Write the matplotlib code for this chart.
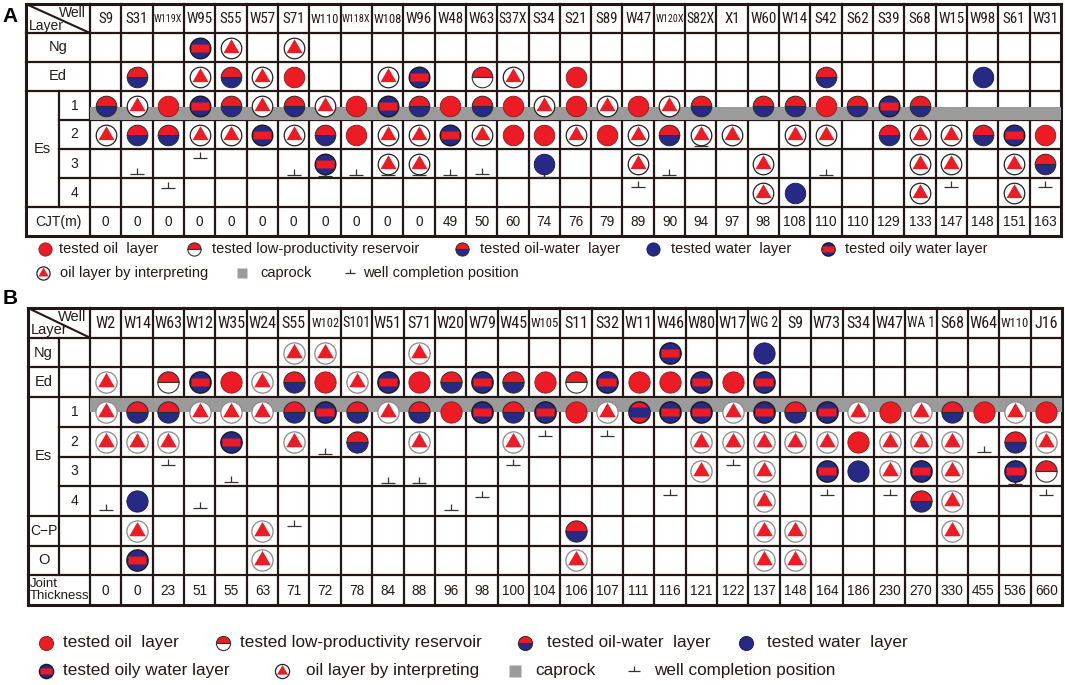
import matplotlib
matplotlib.use('Agg')
import matplotlib.pyplot as plt
from matplotlib.path import Path
from matplotlib import font_manager

# codes: O tested oil, L low-productivity, M oil-water, B water,
#        Y oily water, R oil with water band, T oil layer by interpreting, . none

# ---------------- panel A ----------------
wells_a = ['S9', 'S31', 'W119X', 'W95', 'S55', 'W57', 'S71', 'W110', 'W118X', 'W108', 'W96',
           'W48', 'W63', 'S37X', 'S34', 'S21', 'S89', 'W47', 'W120X', 'S82X', 'X1', 'W60',
           'W14', 'S42', 'S62', 'S39', 'S68', 'W15', 'W98', 'S61', 'W31']
cjt_a = [0, 0, 0, 0, 0, 0, 0, 0, 0, 0, 0, 49, 50, 60, 74, 76, 79, 89, 90, 94, 97, 98,
         108, 110, 110, 129, 133, 147, 148, 151, 163]
layers_a = ['Ng', 'Ed', 'Es1', 'Es2', 'Es3', 'Es4']
rows_a = [
    '...YT.T........................',
    '.M.TMTO..TY.LT.O.......M....B..',
    'MTOYMTMTOYMOMOTOTOTM.MMOMYM....',
    'TMMTTYTMOTTYTOOTOTMTT.TT.MTTMYO',
    '.......Y.TT...B..T...T....TT.TM',
    '.....................TB...T..T.',
]
comp_a_wells = ['S31', 'W119X', 'W95', 'S71', 'W110', 'W118X', 'W108', 'W96', 'W48', 'W63',
                'S34', 'W47', 'W120X', 'S82X', 'S42', 'W15', 'W31']
comp_a_layer = ['Es3', 'Es4', 'Es3', 'Es3', 'Es3', 'Es3', 'Es3', 'Es3', 'Es3', 'Es3',
                'Es3', 'Es4', 'Es3', 'Es2', 'Es3', 'Es4', 'Es4']
comp_a_frac = [0.85, 0.35, 0.3, 0.88, 0.92, 0.88, 0.88, 0.88, 0.88, 0.85,
               0.97, 0.3, 0.9, 0.88, 0.88, 0.3, 0.3]

# ---------------- panel B ----------------
wells_b = ['W2', 'W14', 'W63', 'W12', 'W35', 'W24', 'S55', 'W102', 'S101', 'W51', 'S71',
           'W20', 'W79', 'W45', 'W105', 'S11', 'S32', 'W11', 'W46', 'W80', 'W17', 'WG 2',
           'S9', 'W73', 'S34', 'W47', 'WA 1', 'S68', 'W64', 'W110', 'J16']
jt_b = [0, 0, 23, 51, 55, 63, 71, 72, 78, 84, 88, 96, 98, 100, 104, 106, 107, 111, 116,
        121, 122, 137, 148, 164, 186, 230, 270, 330, 455, 536, 660]
layers_b = ['Ng', 'Ed', 'Es1', 'Es2', 'Es3', 'Es4', 'C-P', 'O']
rows_b = [
    '......TT..T.......Y..B.........',
    'T.LYOTMOTYOMYMOLYOOYOY.........',
    'TMMTTTMYMTMOYMYOTRYYTYMYTOTMOTO',
    'TTT.Y.T.M.T..T.....TTTTTOTTT.MT',
    '...................T.T.YBTYT.YL',
    '.B...................T....MT...',
    '.T...T.........M.....TT....T...',
    '.Y...T.........T.....TT........',
]
comp_b_wells = ['W2', 'W63', 'W12', 'W35', 'S55', 'W102', 'W51', 'S71', 'W20', 'W79',
                'W45', 'W105', 'S32', 'W46', 'W17', 'W73', 'W47', 'W64', 'W110', 'J16']
comp_b_layer = ['Es4', 'Es3', 'Es4', 'Es3', 'C-P', 'Es2', 'Es3', 'Es3', 'Es4', 'Es4',
                'Es3', 'Es2', 'Es2', 'Es4', 'Es3', 'Es4', 'Es4', 'Es2', 'Es3', 'Es4']
comp_b_frac = [0.8, 0.28, 0.75, 0.85, 0.35, 0.9, 0.88, 0.88, 0.8, 0.35,
               0.28, 0.3, 0.3, 0.3, 0.3, 0.3, 0.3, 0.85, 0.92, 0.3]

legend_kinds = ['O', 'L', 'M', 'B', 'Y', 'T', 'CAP', 'COMP']
legend_labels = ['tested oil  layer', 'tested low-productivity reservoir',
                 'tested oil-water  layer', 'tested water  layer', 'tested oily water layer',
                 'oil layer by interpreting', 'caprock', 'well completion position']

RED = '#ed1c24'
BLUE = '#262a86'
CAP = '#9b9b9b'
INK = '#231815'
W, H = 1065, 685

# a condensed face for the well names, if one is installed
ttf = font_manager.fontManager.ttflist
COND, STRETCH = 'Liberation Sans', 'normal'
if any(f.name == 'Liberation Sans Narrow' for f in ttf):
    COND = 'Liberation Sans Narrow'
else:
    for pref in ['Roboto Condensed', 'Open Sans Condensed', 'Noto Sans', 'Roboto',
                 'Open Sans', 'DejaVu Sans']:
        hits = [f for f in ttf if f.name == pref and 'condensed' in str(f.stretch)
                and f.style == 'normal']
        if hits:
            COND, STRETCH = pref, hits[0].stretch
            break
plt.rcParams['font.family'] = ['Liberation Sans', 'DejaVu Sans']

TRI = Path([(0, 1), (-0.866, -0.5), (0.866, -0.5), (0, 1)], closed=True)
BAND = Path([(-1, -0.48), (1, -0.48), (1, 0.48), (-1, 0.48), (-1, -0.48)], closed=True)
COMP = Path([(-1, 0), (1, 0), (0, 0), (0, 0.8)],
            [Path.MOVETO, Path.LINETO, Path.MOVETO, Path.LINETO])


def symbol(ax, x, y, kind, ms, tri_edge='#222222', z=6):
    if kind == 'O':
        ax.plot(x, y, 'o', ms=ms, mfc=RED, mec='#8a1a1a', mew=0.6, zorder=z)
    elif kind == 'B':
        ax.plot(x, y, 'o', ms=ms, mfc=BLUE, mec='#18184a', mew=0.6, zorder=z)
    elif kind == 'L':
        ax.plot(x, y, 'o', ms=ms, fillstyle='top', mfc=RED, mfcalt='white',
                mec='#333333', mew=0.8, zorder=z)
    elif kind == 'M':
        ax.plot(x, y, 'o', ms=ms, fillstyle='top', mfc=RED, mfcalt=BLUE,
                mec='#2a2a2a', mew=0.7, zorder=z)
    elif kind == 'Y':
        ax.plot(x, y, 'o', ms=ms, mfc=BLUE, mec='#1a1a1a', mew=1.0, zorder=z)
        ax.plot(x, y, marker=BAND, ms=ms * 0.86, mfc=RED, mec='none', zorder=z + 1)
    elif kind == 'R':
        ax.plot(x, y, 'o', ms=ms, mfc=RED, mec='#1a1a1a', mew=1.0, zorder=z)
        ax.plot(x, y, marker=BAND, ms=ms * 0.92, mfc=BLUE, mec='none', zorder=z + 1)
    elif kind == 'T':
        ax.plot(x, y, 'o', ms=ms, mfc='white', mec=tri_edge, mew=0.9, zorder=z)
        ax.plot(x, y, marker=TRI, ms=ms * 0.9, mfc=RED, mec='none', zorder=z + 1)
    elif kind == 'CAP':
        ax.plot(x, y, 's', ms=ms * 0.8, mfc=CAP, mec='none', zorder=z)
    elif kind == 'COMP':
        ax.plot(x, y, marker=COMP, ms=ms * 0.8, mfc='none', mec='#333333', mew=0.9, zorder=z)


def make_panel(box, well_x0, split_px, wells, layers, rows, values, cmp_w, cmp_l, cmp_f,
               cap_top, cap_bot, ms, tri_edge, name_fs):
    l, t, r, b = box
    ax = fig.add_axes([l / W, 1 - b / H, (r - l) / W, (b - t) / H])
    n = len(wells)
    nrows = len(layers) + 2
    colw = (r - well_x0) / n
    xl = (well_x0 - l) / colw
    xs = (well_x0 - split_px) / colw
    ax.set_xlim(-xl, n)
    ax.set_ylim(nrows, 0)
    ax.axis('off')

    # grid
    es_inner = [1 + layers.index('Es2'), 1 + layers.index('Es3'), 1 + layers.index('Es4')]
    for j in range(nrows + 1):
        x0 = -xs if j in es_inner else -xl
        ax.plot([x0, n], [j, j], color=INK, lw=2.2 if j in (0, nrows) else 1.6,
                solid_capstyle='projecting', clip_on=False, zorder=2)
    for i in range(n + 1):
        ax.plot([i, i], [0, nrows], color=INK, lw=2.2 if i == n else 1.6,
                solid_capstyle='projecting', clip_on=False, zorder=2)
    ax.plot([-xl, -xl], [0, nrows], color=INK, lw=2.2, clip_on=False, zorder=2)
    ax.plot([-xl, 0], [0, 1], color=INK, lw=1.5, zorder=2)

    # caprock
    ce = 1 + layers.index('Es1')
    ax.fill_between([0, n], ce + cap_top, ce + cap_bot, color=CAP, lw=0, zorder=3)

    # wells and values; names shrunk until they fit their cell
    rend = fig.canvas.get_renderer()
    room = 0.9 * colw * fig.dpi / 100
    for i, name in enumerate(wells):
        fs = name_fs if len(name) <= 4 else name_fs * 0.82
        tx = ax.text(i + 0.5, 0.52, name, ha='center', va='center', fontsize=fs,
                     family=[COND, 'DejaVu Sans'], fontstretch=STRETCH, color=INK)
        wd = tx.get_window_extent(rend).width
        if wd > room:
            tx.set_fontsize(fs * room / wd)
        ax.text(i + 0.5, nrows - 0.48, str(values[i]), ha='center', va='center',
                fontsize=9.8, color=INK)

    # symbols
    for k, row in enumerate(rows):
        for i, code in enumerate(row):
            if code != '.':
                symbol(ax, i + 0.5, k + 1.5, code, ms, tri_edge)

    # well completion positions
    for name, lay, fr in zip(cmp_w, cmp_l, cmp_f):
        i = wells.index(name)
        k = layers.index(lay)
        yc = 1 + k + fr
        if rows[k][i] != '.' and fr > 0.5:
            ax.plot([i + 0.5, i + 0.5], [k + 1.5, yc], color='#333333', lw=0.9, zorder=4)
        ax.plot(i + 0.5, yc, marker=COMP, ms=10.5, mfc='none', mec='#333333',
                mew=0.9, zorder=4)
    return ax, xl, xs, nrows


fig = plt.figure(figsize=(W / 100, H / 100), dpi=100)

# ---- A ----
axa, xl, xs, nr = make_panel((26, 4, 1061, 236), 90, 59, wells_a, layers_a, rows_a, cjt_a,
                             comp_a_wells, comp_a_layer, comp_a_frac, 0.55, 1.0, 14.8,
                             '#222222', 10.8)
axa.plot([-xs, -xs], [3, 7], color=INK, lw=1.6, zorder=2)
axa.text(-0.12, 0.3, 'Well', ha='right', va='center', fontsize=10, color=INK)
axa.text(-xl + 0.08, 0.75, 'Layer', ha='left', va='center', fontsize=10, color=INK)
for k, lay in enumerate(['Ng', 'Ed']):
    axa.text(-xl / 2, k + 1.5, lay, ha='center', va='center', fontsize=10.5, color=INK)
axa.text((-xl - xs) / 2, 5.0, 'Es', ha='center', va='center', fontsize=10.5, color=INK)
for k in range(4):
    axa.text(-xs / 2, k + 3.5, str(k + 1), ha='center', va='center', fontsize=10, color=INK)
axa.text(-xl / 2, nr - 0.5, 'CJT(m)', ha='center', va='center', fontsize=10, color=INK)

# ---- B ----
axb, xl, xs, nr = make_panel((28, 308, 1062, 605), 90, 59, wells_b, layers_b, rows_b, jt_b,
                             comp_b_wells, comp_b_layer, comp_b_frac, 0.03, 0.5, 15.3,
                             '#8a8a8a', 11.5)
axb.plot([-xs, -xs], [1, 9], color=INK, lw=1.6, zorder=2)
axb.text(-0.12, 0.3, 'Well', ha='right', va='center', fontsize=10.5, color=INK)
axb.text(-xl + 0.08, 0.75, 'Layer', ha='left', va='center', fontsize=10.5, color=INK)
for k, lay in enumerate(['Ng', 'Ed']):
    axb.text((-xl - xs) / 2, k + 1.5, lay, ha='center', va='center', fontsize=10.5, color=INK)
axb.text((-xl - xs) / 2, 5.0, 'Es', ha='center', va='center', fontsize=10.5, color=INK)
for k in range(4):
    axb.text(-xs / 2, k + 3.5, str(k + 1), ha='center', va='center', fontsize=10, color=INK)
axb.text((-xl - xs) / 2, 7.5, 'C\u2212P', ha='center', va='center', fontsize=10, color=INK)
axb.text((-xl - xs) / 2, 8.5, 'O', ha='center', va='center', fontsize=10.5, color=INK)
axb.text(-xl + 0.05, nr - 0.5, 'Joint\nThickness', ha='left', va='center', fontsize=9.5,
         linespacing=0.95, color=INK)

# ---- overlay: panel letters and legends ----
lg = fig.add_axes([0, 0, 1, 1])
lg.set_xlim(0, W)
lg.set_ylim(H, 0)
lg.axis('off')
lg.text(10, 16, 'A', ha='center', va='center', fontsize=15, fontweight='bold')
lg.text(10, 298, 'B', ha='center', va='center', fontsize=15, fontweight='bold')

leg_a_mark = [45, 194, 462, 653, 828, 43, 242, 350]
leg_a_text = [59, 212, 480, 671, 845, 60, 260, 363]
leg_a_y = [249] * 5 + [273] * 3
for kind, lab, xm, xt, y in zip(legend_kinds, legend_labels, leg_a_mark, leg_a_text, leg_a_y):
    symbol(lg, xm, y, kind, 9.5)
    lg.text(xt, y, lab, ha='left', va='center', fontsize=10.5, color=INK)

leg_b_mark = [46, 223, 525, 746, 46, 282, 515, 634]
leg_b_text = [63, 240, 547, 767, 63, 306, 535, 654]
leg_b_y = [643] * 4 + [671] * 4
for kind, lab, xm, xt, y in zip(legend_kinds, legend_labels, leg_b_mark, leg_b_text, leg_b_y):
    symbol(lg, xm, y, kind, 10.2)
    lg.text(xt, y, lab, ha='left', va='center', fontsize=12.3, color=INK)

fig.savefig('out.png', dpi=100)
